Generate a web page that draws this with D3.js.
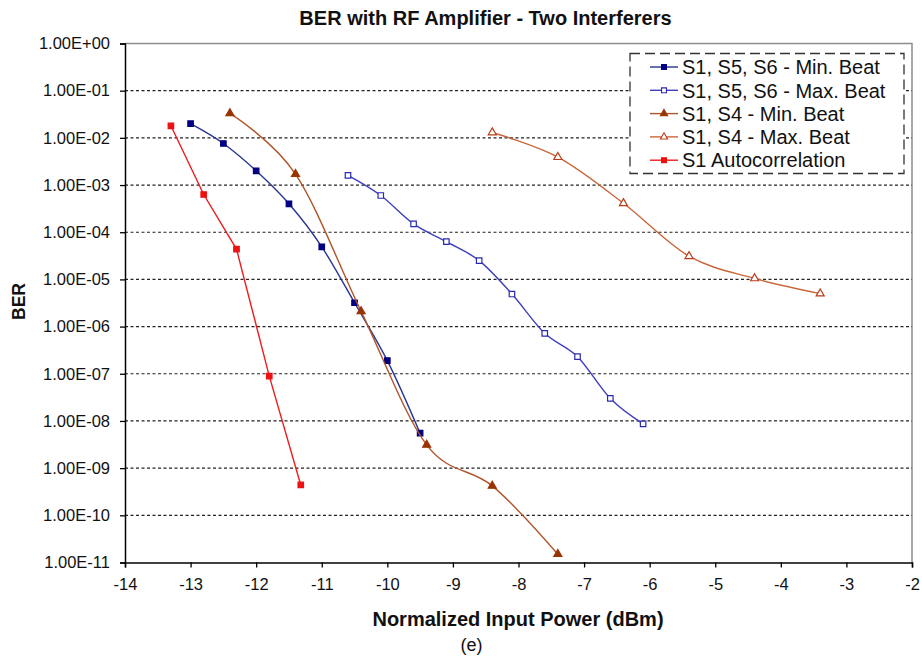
<!DOCTYPE html>
<html>
<head>
<meta charset="utf-8">
<script src="https://cdn.jsdelivr.net/npm/d3@7"></script>
<style>
  html, body { margin: 0; padding: 0; background: #fff; }
  svg { display: block; font-family: "Liberation Sans", Arial, sans-serif; }
</style>
</head>
<body>
<svg id="chart" width="922" height="664"></svg>
<script>
// Input power (dBm) and measured BER for each configuration
const minBeat556X = [-13, -12.5, -12, -11.5, -11, -10.5, -10, -9.5];
const minBeat556Y = [2.0e-2, 7.6e-3, 2.0e-3, 4.0e-4, 4.9e-5, 3.2e-6, 1.9e-7, 5.5e-9];

const maxBeat556X = [-10.6, -10.1, -9.6, -9.1, -8.6, -8.1, -7.6, -7.1, -6.6, -6.1];
const maxBeat556Y = [1.6e-3, 6.0e-4, 1.5e-4, 6.3e-5, 2.5e-5, 4.9e-6, 7.2e-7, 2.3e-7, 3.0e-8, 8.7e-9];

const minBeat14X = [-12.4, -11.4, -10.4, -9.4, -8.4, -7.4];
const minBeat14Y = [3.3e-2, 1.7e-3, 2.1e-6, 3.1e-9, 4.2e-10, 1.5e-11];

const maxBeat14X = [-8.4, -7.4, -6.4, -5.4, -4.4, -3.4];
const maxBeat14Y = [1.3e-2, 3.9e-3, 4.1e-4, 3.1e-5, 1.05e-5, 5.0e-6];

const autoX = [-13.3, -12.8, -12.3, -11.8, -11.32];
const autoY = [1.8e-2, 6.3e-4, 4.4e-5, 8.9e-8, 4.4e-10];

const xTicks = [-14, -13, -12, -11, -10, -9, -8, -7, -6, -5, -4, -3, -2];
const yTicks = [1e0, 1e-1, 1e-2, 1e-3, 1e-4, 1e-5, 1e-6, 1e-7, 1e-8, 1e-9, 1e-10, 1e-11];

const seriesNames = [
  "S1, S5, S6 - Min. Beat",
  "S1, S5, S6 - Max. Beat",
  "S1, S4 - Min. Beat",
  "S1, S4 - Max. Beat",
  "S1 Autocorrelation"
];

const series = [
  { name: seriesNames[0], xs: minBeat556X, ys: minBeat556Y, line: "#283593", mark: "square", fill: "#000080", stroke: "#000080", smooth: true },
  { name: seriesNames[1], xs: maxBeat556X, ys: maxBeat556Y, line: "#3f3fbf", mark: "square", fill: "#fff", stroke: "#2a2ab0", smooth: true },
  { name: seriesNames[2], xs: minBeat14X, ys: minBeat14Y, line: "#b0552a", mark: "triangle", fill: "#993300", stroke: "#993300", smooth: true },
  { name: seriesNames[3], xs: maxBeat14X, ys: maxBeat14Y, line: "#c8663a", mark: "triangle", fill: "#fff", stroke: "#b83c1a", smooth: true },
  { name: seriesNames[4], xs: autoX, ys: autoY, line: "#ee1c1c", mark: "square", fill: "#ee1111", stroke: "#ee1111", smooth: false }
];

const markSize = { square: 30, triangle: 28 };

const svg = d3.select("#chart");
const margin = { left: 125, right: 10, top: 43.5, bottom: 101.5 };
const W = 922, H = 664;

const x = d3.scaleLinear().domain([-14, -2]).range([margin.left, W - margin.right]);
const y = d3.scaleLog().domain([1e-11, 1]).range([H - margin.bottom, margin.top]);

// Plot frame (top & right in gray)
svg.append("path")
  .attr("d", `M${x(-14)},${y(1)}H${x(-2)}V${y(1e-11)}`)
  .attr("fill", "none").attr("stroke", "#8c8c8c").attr("stroke-width", 1.5);

// Dashed horizontal gridlines
svg.append("g").selectAll("line")
  .data(yTicks.filter(v => v < 1 && v > 1e-11))
  .join("line")
  .attr("x1", x(-14)).attr("x2", x(-2))
  .attr("y1", d => y(d)).attr("y2", d => y(d))
  .attr("stroke", "#222").attr("stroke-width", 1.2)
  .attr("stroke-dasharray", "3,2.5");

// Axes
const fmt = d => {
  const e = Math.round(Math.log10(d));
  const s = e >= 0 ? "+" : "-";
  return "1.00E" + s + String(Math.abs(e)).padStart(2, "0");
};

const yAxis = svg.append("g")
  .attr("transform", `translate(${x(-14)},0)`)
  .call(d3.axisLeft(y).tickValues(yTicks).tickFormat(fmt).tickSizeOuter(0).tickSize(5).tickPadding(10));
const xAxis = svg.append("g")
  .attr("transform", `translate(0,${y(1e-11)})`)
  .call(d3.axisBottom(x).tickValues(xTicks).tickFormat(d => d).tickSizeOuter(0).tickSize(5).tickPadding(7));

[yAxis, xAxis].forEach(g => {
  g.select(".domain").attr("stroke", "#000").attr("stroke-width", 1.5);
  g.selectAll(".tick line").attr("stroke", "#000").attr("stroke-width", 1.3);
  g.selectAll("text").attr("font-size", 16.5).attr("fill", "#111")
    .attr("font-family", "'Liberation Sans', Arial, sans-serif");
});
xAxis.selectAll("text").attr("dy", "0.95em");

// Series lines
const lineSmooth = d3.line().x(d => x(d[0])).y(d => y(d[1])).curve(d3.curveCardinal.tension(0));
const lineStraight = d3.line().x(d => x(d[0])).y(d => y(d[1]));

const sym = { square: d3.symbolSquare, triangle: d3.symbolTriangle };

series.forEach(s => {
  const pts = s.xs.map((v, i) => [v, s.ys[i]]);
  svg.append("path")
    .attr("d", (s.smooth ? lineSmooth : lineStraight)(pts))
    .attr("fill", "none").attr("stroke", s.line).attr("stroke-width", 1.4);
  svg.append("g").selectAll("path")
    .data(pts).join("path")
    .attr("transform", d => `translate(${x(d[0])},${y(d[1])})`)
    .attr("d", d3.symbol().type(sym[s.mark]).size(markSize[s.mark]))
    .attr("fill", s.fill).attr("stroke", s.stroke).attr("stroke-width", 1.2);
});

// Legend
const lg = svg.append("g");
lg.append("rect")
  .attr("x", 630).attr("y", 53.5).attr("width", 274).attr("height", 120)
  .attr("fill", "#fff").attr("stroke", "#333").attr("stroke-width", 1.3)
  .attr("stroke-dasharray", "10,5");
series.forEach((s, i) => {
  const cy = 67 + i * 23.3;
  lg.append("line").attr("x1", 650).attr("x2", 678).attr("y1", cy).attr("y2", cy)
    .attr("stroke", s.line).attr("stroke-width", 1.4);
  lg.append("path")
    .attr("transform", `translate(664,${cy})`)
    .attr("d", d3.symbol().type(sym[s.mark]).size(markSize[s.mark] * 0.8))
    .attr("fill", s.fill).attr("stroke", s.stroke).attr("stroke-width", 1.1);
  lg.append("text").attr("x", 682).attr("y", cy).attr("dy", "0.36em")
    .attr("font-size", 20).attr("fill", "#111").text(s.name);
});

// Titles
svg.append("text").attr("x", 485.5).attr("y", 25).attr("text-anchor", "middle")
  .attr("font-size", 20).attr("font-weight", "bold").attr("fill", "#111")
  .text("BER with RF Amplifier - Two Interferers");
svg.append("text").attr("x", 518).attr("y", 626).attr("text-anchor", "middle")
  .attr("font-size", 20).attr("font-weight", "bold").attr("fill", "#111")
  .text("Normalized Input Power (dBm)");
svg.append("text").attr("transform", "translate(25,301.5) rotate(-90)").attr("text-anchor", "middle")
  .attr("font-size", 17.5).attr("font-weight", "bold").attr("fill", "#111")
  .text("BER");
svg.append("text").attr("x", 471.5).attr("y", 651).attr("text-anchor", "middle")
  .attr("font-size", 18).attr("fill", "#111").text("(e)");
</script>
</body>
</html>
